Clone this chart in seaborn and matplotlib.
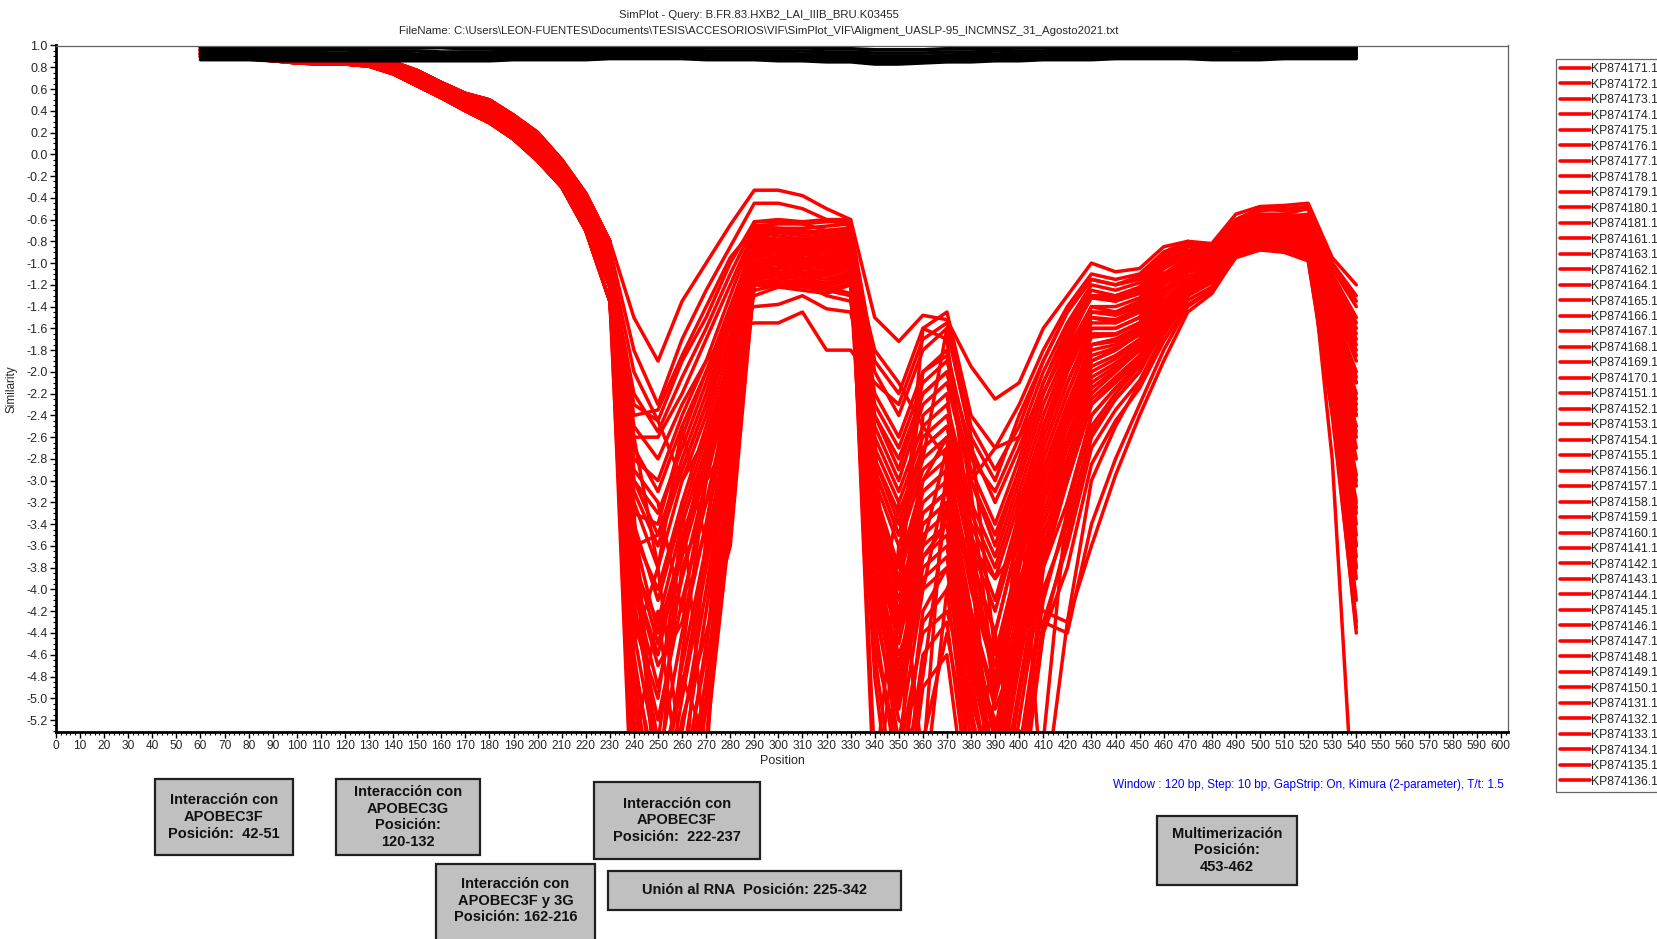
import matplotlib
matplotlib.use("Agg")
import matplotlib.pyplot as plt
from matplotlib.patches import Rectangle
from matplotlib.ticker import MultipleLocator, FormatStrFormatter
import pandas as pd
import seaborn as sns

# ---------------------------------------------------------------- data
positions = list(range(60, 550, 10))          # window midpoints, 60..540
head_positions = positions[:18]               # 60..230
tail_positions = positions[18:]               # 240..540

red_names = [
    "KP874171.1", "KP874172.1", "KP874173.1", "KP874174.1", "KP874175.1",
    "KP874176.1", "KP874177.1", "KP874178.1", "KP874179.1", "KP874180.1",
    "KP874181.1", "KP874161.1", "KP874163.1", "KP874162.1", "KP874164.1",
    "KP874165.1", "KP874166.1", "KP874167.1", "KP874168.1", "KP874169.1",
    "KP874170.1", "KP874151.1", "KP874152.1", "KP874153.1", "KP874154.1",
    "KP874155.1", "KP874156.1", "KP874157.1", "KP874158.1", "KP874159.1",
    "KP874160.1", "KP874141.1", "KP874142.1", "KP874143.1", "KP874144.1",
    "KP874145.1", "KP874146.1", "KP874147.1", "KP874148.1", "KP874149.1",
    "KP874150.1", "KP874131.1", "KP874132.1", "KP874133.1", "KP874134.1",
    "KP874135.1", "KP874136.1",
]

# similarity from 60 to 230 (the shared descending band)
red_heads = [
    [0.99, 0.99, 0.98, 0.97, 0.95, 0.93, 0.91, 0.89, 0.85, 0.77, 0.66, 0.56, 0.50, 0.36, 0.20, -0.05, -0.36, -0.80],
    [0.98, 0.97, 0.96, 0.95, 0.93, 0.91, 0.90, 0.88, 0.83, 0.75, 0.64, 0.54, 0.47, 0.33, 0.16, -0.09, -0.41, -0.87],
    [0.96, 0.95, 0.94, 0.92, 0.90, 0.89, 0.88, 0.86, 0.81, 0.72, 0.61, 0.51, 0.43, 0.29, 0.12, -0.13, -0.46, -0.95],
    [0.95, 0.94, 0.93, 0.91, 0.89, 0.88, 0.87, 0.85, 0.80, 0.70, 0.59, 0.49, 0.40, 0.25, 0.08, -0.17, -0.51, -1.03],
    [0.93, 0.92, 0.91, 0.89, 0.87, 0.86, 0.85, 0.84, 0.78, 0.68, 0.57, 0.46, 0.36, 0.21, 0.04, -0.21, -0.56, -1.12],
    [0.92, 0.91, 0.90, 0.88, 0.86, 0.85, 0.84, 0.83, 0.76, 0.66, 0.55, 0.43, 0.33, 0.18, -0.01, -0.25, -0.63, -1.22],
    [0.90, 0.89, 0.88, 0.86, 0.84, 0.83, 0.83, 0.81, 0.74, 0.63, 0.52, 0.40, 0.29, 0.14, -0.06, -0.30, -0.70, -1.35],
]
red_head_choice = [0, 1, 2, 3, 4, 5, 6, 1, 3, 5, 0, 2, 4, 6, 2, 5, 1, 4, 0, 3, 6, 3, 0, 6,
                   2, 5, 1, 4, 4, 1, 6, 3, 0, 5, 2, 5, 2, 0, 4, 6, 1, 3, 6, 3, 1, 5, 2]

# similarity from 240 to 540
red_tails = [
    [-1.50, -1.90, -1.35, -1.00, -0.65, -0.33, -0.33, -0.38, -0.50, -0.60, -1.50, -1.72, -1.48, -1.52, -1.95, -2.25, -2.10, -1.60, -1.30, -1.00, -1.08, -1.05, -0.85, -0.80, -0.82, -0.55, -0.48, -0.47, -0.45, -0.95, -1.20],
    [-1.80, -2.30, -1.70, -1.25, -0.85, -0.45, -0.45, -0.50, -0.60, -0.66, -1.90, -2.20, -1.60, -1.45, -2.40, -2.70, -2.30, -1.80, -1.40, -1.10, -1.15, -1.10, -0.90, -0.82, -0.85, -0.60, -0.50, -0.52, -0.48, -1.00, -1.35],
    [-2.00, -2.45, -1.90, -1.50, -1.00, -0.62, -0.62, -0.64, -0.70, -0.68, -2.20, -2.60, -2.00, -1.80, -2.80, -3.10, -2.60, -2.00, -1.55, -1.20, -1.25, -1.18, -0.95, -0.85, -0.88, -0.65, -0.55, -0.55, -0.50, -1.10, -1.50],
    [-2.20, -2.55, -2.05, -1.60, -1.10, -0.65, -0.68, -0.70, -0.72, -0.70, -2.50, -3.00, -2.30, -2.10, -3.00, -3.50, -2.90, -2.20, -1.70, -1.30, -1.35, -1.25, -1.00, -0.90, -0.90, -0.70, -0.60, -0.58, -0.55, -1.20, -1.70],
    [-2.40, -2.35, -1.85, -1.40, -0.95, -0.68, -0.70, -0.72, -0.75, -0.72, -2.00, -2.40, -1.80, -1.60, -2.60, -3.00, -2.40, -1.90, -1.45, -1.15, -1.20, -1.15, -0.92, -0.84, -0.86, -0.62, -0.52, -0.50, -0.50, -1.05, -1.40],
    [-2.60, -2.60, -2.20, -1.70, -1.20, -0.70, -0.72, -0.75, -0.78, -0.74, -2.70, -3.20, -2.60, -2.40, -3.30, -3.80, -3.10, -2.40, -1.85, -1.40, -1.45, -1.35, -1.05, -0.92, -0.92, -0.72, -0.62, -0.62, -0.60, -1.30, -1.85],
    [-2.80, -3.00, -2.40, -1.90, -1.30, -0.72, -0.75, -0.78, -0.80, -0.76, -2.40, -2.90, -2.20, -2.00, -2.90, -3.40, -2.80, -2.10, -1.60, -1.25, -1.30, -1.22, -0.98, -0.88, -0.90, -0.68, -0.58, -0.58, -0.56, -1.15, -1.60],
    [-3.00, -3.30, -2.70, -2.10, -1.45, -0.75, -0.78, -0.80, -0.82, -0.78, -2.90, -3.50, -2.80, -2.60, -3.60, -4.20, -3.40, -2.60, -2.00, -1.50, -1.55, -1.45, -1.12, -0.98, -0.95, -0.75, -0.65, -0.65, -0.62, -1.40, -2.00],
    [-3.10, -3.60, -2.90, -2.30, -1.55, -0.78, -0.80, -0.82, -0.85, -0.80, -2.30, -2.70, -2.10, -1.90, -2.70, -3.20, -2.70, -2.10, -1.65, -1.30, -1.32, -1.25, -1.00, -0.90, -0.92, -0.70, -0.60, -0.60, -0.58, -1.20, -1.65],
    [-3.20, -3.80, -3.00, -2.40, -1.65, -0.80, -0.82, -0.85, -0.88, -0.82, -3.10, -3.80, -3.00, -2.80, -3.90, -4.60, -3.70, -2.80, -2.20, -1.65, -1.65, -1.55, -1.20, -1.02, -0.98, -0.78, -0.68, -0.68, -0.66, -1.50, -2.20],
    [-3.30, -3.40, -2.60, -2.00, -1.40, -0.82, -0.85, -0.88, -0.90, -0.84, -2.60, -3.10, -2.50, -2.30, -3.20, -3.70, -3.00, -2.30, -1.80, -1.40, -1.40, -1.32, -1.05, -0.93, -0.93, -0.72, -0.62, -0.63, -0.62, -1.35, -1.90],
    [-3.50, -4.00, -3.20, -2.50, -1.75, -0.85, -0.88, -0.90, -0.92, -0.86, -3.30, -4.10, -3.20, -3.00, -4.20, -5.00, -4.00, -3.00, -2.40, -1.80, -1.75, -1.62, -1.28, -1.08, -1.02, -0.80, -0.70, -0.70, -0.70, -1.60, -2.40],
    [-3.60, -3.50, -2.80, -2.20, -1.50, -0.88, -0.90, -0.92, -0.95, -0.88, -2.80, -3.30, -2.70, -2.50, -3.40, -3.90, -3.20, -2.50, -1.90, -1.45, -1.48, -1.40, -1.10, -0.96, -0.95, -0.75, -0.65, -0.66, -0.65, -1.45, -2.10],
    [-3.80, -4.30, -3.40, -2.70, -1.85, -0.90, -0.92, -0.95, -0.98, -0.90, -3.50, -4.40, -3.40, -3.20, -4.50, -5.60, -4.30, -3.20, -2.60, -1.95, -1.85, -1.70, -1.35, -1.12, -1.05, -0.82, -0.72, -0.73, -0.74, -1.70, -2.70],
    [-3.90, -4.60, -3.60, -2.80, -1.95, -0.92, -0.95, -0.98, -1.00, -0.92, -3.00, -3.60, -2.90, -2.70, -3.70, -4.40, -3.50, -2.70, -2.10, -1.60, -1.60, -1.50, -1.18, -1.00, -0.98, -0.78, -0.68, -0.70, -0.72, -1.55, -2.30],
    [-4.00, -4.90, -3.90, -3.00, -2.10, -0.95, -0.98, -1.00, -1.02, -0.95, -3.70, -4.70, -3.60, -3.40, -4.80, -6.00, -4.60, -3.40, -2.80, -2.10, -1.95, -1.78, -1.42, -1.16, -1.08, -0.85, -0.75, -0.76, -0.78, -1.80, -2.95],
    [-4.20, -5.20, -4.10, -3.20, -2.20, -0.98, -1.00, -1.02, -1.05, -0.98, -3.20, -3.90, -3.10, -2.90, -4.00, -4.80, -3.80, -2.90, -2.30, -1.75, -1.70, -1.58, -1.25, -1.05, -1.00, -0.80, -0.70, -0.72, -0.76, -1.65, -2.55],
    [-4.40, -5.60, -4.40, -3.40, -2.30, -1.00, -1.02, -1.05, -1.08, -1.00, -3.90, -5.00, -3.80, -3.60, -5.10, -6.20, -4.90, -3.60, -3.00, -2.25, -2.05, -1.85, -1.48, -1.20, -1.10, -0.88, -0.78, -0.80, -0.82, -1.90, -3.20],
    [-4.60, -6.00, -4.70, -3.60, -2.40, -1.02, -1.05, -1.08, -1.10, -1.02, -3.40, -4.20, -3.30, -3.10, -4.30, -5.30, -4.10, -3.10, -2.50, -1.90, -1.80, -1.65, -1.30, -1.08, -1.02, -0.82, -0.72, -0.75, -0.80, -1.75, -2.80],
    [-4.80, -6.30, -5.00, -3.80, -2.50, -1.05, -1.08, -1.10, -1.12, -1.05, -4.10, -5.40, -4.00, -3.80, -5.40, -6.50, -5.20, -3.80, -3.20, -2.40, -2.15, -1.92, -1.55, -1.25, -1.15, -0.90, -0.80, -0.83, -0.86, -2.00, -3.50],
    [-5.00, -6.50, -5.30, -4.00, -2.60, -1.08, -1.10, -1.12, -1.15, -1.08, -3.60, -4.50, -3.50, -3.30, -4.60, -5.70, -4.40, -3.30, -2.65, -2.00, -1.88, -1.72, -1.36, -1.12, -1.05, -0.85, -0.75, -0.78, -0.84, -1.85, -3.00],
    [-5.30, -6.80, -5.60, -4.20, -2.70, -1.10, -1.12, -1.15, -1.18, -1.10, -4.30, -5.80, -4.30, -4.00, -5.70, -6.80, -5.50, -4.00, -3.40, -2.55, -2.25, -2.00, -1.60, -1.30, -1.18, -0.92, -0.82, -0.86, -0.90, -2.10, -3.80],
    [-5.60, -7.00, -5.90, -4.50, -2.85, -1.12, -1.15, -1.18, -1.20, -1.12, -3.80, -4.80, -3.70, -3.50, -4.90, -6.00, -4.70, -3.50, -2.85, -2.15, -1.98, -1.80, -1.42, -1.16, -1.08, -0.88, -0.78, -0.80, -0.88, -1.95, -3.30],
    [-5.90, -7.30, -6.20, -4.80, -3.00, -1.15, -1.18, -1.20, -1.22, -1.15, -4.60, -6.20, -4.60, -4.30, -6.00, -7.20, -5.80, -4.30, -3.60, -2.70, -2.35, -2.08, -1.66, -1.34, -1.22, -0.94, -0.85, -0.88, -0.94, -2.20, -4.10],
    [-6.20, -7.60, -6.50, -5.10, -3.20, -1.18, -1.20, -1.22, -1.25, -1.18, -4.00, -5.10, -3.90, -3.70, -5.20, -6.40, -5.00, -3.70, -3.00, -2.30, -2.08, -1.88, -1.50, -1.22, -1.12, -0.90, -0.80, -0.84, -0.92, -2.05, -3.60],
    [-6.50, -7.90, -6.80, -5.40, -3.40, -1.20, -1.22, -1.25, -1.28, -1.20, -4.80, -6.60, -4.90, -4.60, -6.30, -7.60, -6.10, -4.40, -3.80, -2.85, -2.45, -2.15, -1.72, -1.38, -1.25, -0.95, -0.88, -0.90, -0.98, -2.30, -4.40],
    [-2.50, -2.80, -2.30, -1.90, -1.60, -1.55, -1.55, -1.45, -1.80, -1.80, -2.10, -2.30, -1.70, -1.55, -2.50, -2.90, -2.50, -1.90, -1.45, -1.15, -1.20, -1.12, -0.90, -0.80, -0.85, -0.60, -0.50, -0.50, -0.48, -1.00, -1.30],
    [-2.70, -3.10, -2.50, -2.00, -1.55, -1.40, -1.38, -1.30, -1.42, -1.45, -2.40, -2.80, -2.20, -2.00, -3.00, -3.60, -2.90, -2.20, -1.70, -1.32, -1.35, -1.28, -1.02, -0.90, -0.90, -0.68, -0.58, -0.58, -0.58, -1.25, -1.75],
    [-3.00, -3.50, -2.90, -2.30, -1.70, -1.30, -1.22, -1.18, -1.30, -1.35, -2.80, -3.40, -2.70, -2.50, -3.50, -4.10, -3.30, -2.50, -1.95, -1.50, -1.52, -1.42, -1.12, -0.96, -0.95, -0.74, -0.64, -0.64, -0.64, -1.40, -2.05],
    [-3.40, -4.10, -3.30, -2.60, -1.85, -1.25, -1.20, -1.15, -1.25, -1.30, -3.20, -3.90, -3.10, -2.90, -3.90, -4.70, -3.70, -2.80, -2.20, -1.68, -1.66, -1.55, -1.20, -1.02, -0.98, -0.78, -0.68, -0.68, -0.68, -1.50, -2.25],
    [-3.70, -4.50, -3.70, -2.90, -2.00, -1.20, -1.15, -1.10, -1.22, -1.28, -3.40, -4.30, -3.40, -3.20, -4.40, -5.40, -4.20, -3.10, -2.45, -1.85, -1.78, -1.66, -1.30, -1.08, -1.03, -0.82, -0.72, -0.74, -0.76, -1.68, -2.60],
    [-6.00, -6.50, -5.80, -4.60, -2.20, -0.95, -0.90, -0.88, -0.85, -0.80, -6.00, -4.20, -3.00, -2.60, -6.00, -5.00, -3.60, -2.60, -2.00, -1.55, -1.55, -1.45, -1.15, -0.98, -0.95, -0.74, -0.64, -0.64, -0.64, -1.45, -2.10],
    [-4.50, -3.80, -5.60, -5.00, -2.60, -0.88, -0.85, -0.84, -0.82, -0.78, -3.00, -5.80, -2.40, -2.20, -3.80, -6.00, -4.60, -3.20, -2.50, -1.90, -1.80, -1.65, -1.30, -1.08, -1.02, -0.80, -0.70, -0.72, -0.74, -1.60, -2.40],
    [-3.60, -6.00, -3.20, -5.60, -2.40, -0.80, -0.80, -0.78, -0.76, -0.72, -5.80, -3.60, -5.60, -2.80, -4.40, -5.80, -3.10, -6.00, -4.30, -3.00, -2.50, -2.10, -1.65, -1.30, -1.15, -0.88, -0.80, -0.84, -0.90, -2.10, -3.70],
    [-5.50, -4.20, -6.00, -3.50, -1.90, -0.75, -0.72, -0.72, -0.70, -0.68, -2.60, -6.00, -4.80, -3.20, -6.20, -4.40, -5.90, -4.40, -3.50, -2.60, -2.25, -2.00, -1.58, -1.28, -1.15, -0.90, -0.82, -0.85, -0.92, -2.15, -3.90],
    [-4.80, -6.40, -4.60, -3.00, -2.00, -0.70, -0.68, -0.68, -0.66, -0.64, -4.40, -3.20, -6.00, -4.00, -3.40, -6.40, -4.00, -2.90, -2.30, -1.75, -1.70, -1.60, -1.26, -1.06, -1.00, -0.78, -0.68, -0.70, -0.72, -1.55, -2.35],
    [-2.60, -3.80, -2.50, -3.60, -3.50, -0.66, -0.64, -0.64, -0.62, -0.62, -3.80, -4.60, -4.00, -3.00, -4.20, -5.10, -4.50, -4.30, -4.40, -3.40, -2.80, -2.30, -1.80, -1.40, -1.25, -0.92, -0.84, -0.88, -0.95, -2.30, -4.30],
    [-2.90, -3.20, -4.20, -3.00, -2.60, -0.62, -0.60, -0.62, -0.60, -0.60, -3.60, -4.30, -3.60, -2.70, -3.60, -3.90, -3.60, -4.20, -4.30, -3.60, -2.95, -2.40, -1.90, -1.45, -1.28, -0.94, -0.86, -0.90, -0.96, -2.40, -4.35],
    [-3.30, -5.80, -4.80, -5.40, -3.00, -1.05, -1.00, -0.98, -0.96, -0.92, -5.60, -6.00, -4.20, -3.80, -4.60, -5.20, -6.00, -3.80, -3.00, -2.30, -2.10, -1.90, -1.50, -1.22, -1.12, -0.88, -0.78, -0.82, -0.86, -1.95, -3.40],
    [-4.10, -5.40, -3.80, -3.20, -2.80, -1.00, -0.95, -0.92, -0.90, -0.88, -3.30, -4.00, -2.00, -1.85, -3.10, -4.90, -3.90, -3.40, -2.70, -2.05, -1.92, -1.75, -1.40, -1.15, -1.06, -0.84, -0.74, -0.76, -0.80, -1.80, -3.05],
    [-5.20, -6.60, -5.20, -4.40, -3.60, -1.15, -1.10, -1.05, -1.02, -0.98, -4.50, -5.50, -4.40, -4.20, -5.00, -5.80, -5.30, -5.40, -3.20, -2.50, -2.20, -1.95, -1.55, -1.25, -1.14, -0.90, -0.80, -0.84, -0.88, -2.00, -3.60],
    [-3.90, -4.70, -4.30, -3.40, -2.20, -0.86, -0.82, -0.80, -0.80, -0.76, -2.90, -3.50, -2.80, -1.60, -2.60, -4.60, -3.80, -2.60, -2.00, -1.45, -1.45, -1.38, -1.10, -0.95, -0.93, -0.72, -0.62, -0.62, -0.60, -1.30, -1.80],
    [-4.30, -5.00, -3.50, -2.90, -2.10, -0.92, -0.88, -0.86, -0.85, -0.82, -3.10, -4.00, -1.60, -1.70, -3.50, -5.00, -4.20, -3.00, -2.35, -1.75, -1.72, -1.60, -1.25, -1.05, -1.00, -0.80, -0.70, -0.72, -0.75, -1.70, -2.50],
    [-2.30, -2.45, -3.00, -2.60, -2.00, -1.00, -0.98, -0.96, -0.95, -0.90, -1.80, -2.10, -2.50, -2.80, -3.00, -2.70, -2.60, -2.20, -1.75, -1.30, -1.30, -1.25, -1.00, -0.90, -0.88, -0.66, -0.56, -0.56, -0.56, -1.15, -1.55],
    [-5.80, -5.40, -6.20, -5.00, -3.30, -1.10, -1.05, -1.00, -0.98, -0.95, -4.20, -5.20, -5.40, -4.40, -5.60, -6.60, -5.60, -4.10, -3.30, -2.40, -2.15, -1.95, -1.52, -1.24, -1.14, -0.90, -0.82, -0.86, -0.92, -2.20, -3.80],
    [-3.50, -4.40, -3.60, -2.70, -1.90, -0.84, -0.80, -0.80, -0.78, -0.74, -3.40, -4.40, -3.30, -3.10, -3.80, -4.40, -3.50, -2.70, -2.10, -1.60, -1.60, -1.50, -1.18, -1.00, -0.97, -0.76, -0.66, -0.67, -0.68, -2.80, -6.50],
    [-4.70, -5.80, -4.90, -3.70, -2.45, -1.08, -1.05, -1.02, -1.00, -0.96, -3.90, -4.90, -3.70, -3.40, -4.70, -5.70, -4.50, -3.60, -2.90, -2.20, -2.00, -1.80, -1.45, -1.18, -1.09, -0.86, -0.76, -0.78, -0.82, -1.88, -3.25],
]

# the tight group of close relatives that stays near 0.9 over the whole gene
black_rows = [
    [0.99, 0.99, 0.99, 0.98, 0.98, 0.98, 0.98, 0.98, 0.98, 0.98, 0.98, 0.97, 0.97, 0.97, 0.97, 0.97, 0.98, 0.98, 0.98, 0.98, 0.98, 0.98, 0.98, 0.98, 0.98, 0.98, 0.97, 0.97, 0.96, 0.96, 0.96, 0.97, 0.97, 0.97, 0.98, 0.98, 0.98, 0.98, 0.98, 0.98, 0.98, 0.98, 0.98, 0.98, 0.98, 0.98, 0.98, 0.98, 0.98],
    [0.97, 0.97, 0.96, 0.96, 0.96, 0.96, 0.96, 0.95, 0.95, 0.95, 0.94, 0.94, 0.94, 0.95, 0.95, 0.96, 0.96, 0.96, 0.96, 0.96, 0.96, 0.95, 0.95, 0.95, 0.95, 0.95, 0.94, 0.94, 0.93, 0.93, 0.93, 0.94, 0.94, 0.95, 0.95, 0.95, 0.96, 0.96, 0.96, 0.96, 0.96, 0.96, 0.96, 0.96, 0.96, 0.96, 0.96, 0.96, 0.96],
    [0.95, 0.95, 0.94, 0.94, 0.94, 0.93, 0.93, 0.93, 0.93, 0.92, 0.92, 0.92, 0.92, 0.93, 0.93, 0.94, 0.94, 0.94, 0.94, 0.94, 0.94, 0.93, 0.93, 0.93, 0.93, 0.92, 0.92, 0.92, 0.90, 0.90, 0.90, 0.91, 0.92, 0.92, 0.93, 0.93, 0.94, 0.94, 0.94, 0.94, 0.94, 0.94, 0.94, 0.93, 0.94, 0.94, 0.94, 0.94, 0.94],
    [0.93, 0.93, 0.92, 0.92, 0.92, 0.91, 0.91, 0.91, 0.91, 0.91, 0.90, 0.90, 0.90, 0.91, 0.91, 0.92, 0.92, 0.92, 0.92, 0.92, 0.92, 0.92, 0.91, 0.91, 0.91, 0.90, 0.90, 0.90, 0.88, 0.88, 0.88, 0.89, 0.90, 0.90, 0.91, 0.91, 0.92, 0.92, 0.92, 0.92, 0.92, 0.92, 0.92, 0.91, 0.92, 0.92, 0.92, 0.92, 0.92],
    [0.91, 0.91, 0.90, 0.90, 0.90, 0.89, 0.89, 0.89, 0.89, 0.89, 0.88, 0.88, 0.88, 0.89, 0.89, 0.90, 0.90, 0.90, 0.90, 0.90, 0.91, 0.90, 0.90, 0.89, 0.89, 0.88, 0.88, 0.88, 0.86, 0.86, 0.86, 0.87, 0.88, 0.88, 0.89, 0.89, 0.90, 0.90, 0.90, 0.90, 0.91, 0.91, 0.90, 0.90, 0.90, 0.90, 0.91, 0.91, 0.91],
    [0.89, 0.89, 0.88, 0.88, 0.88, 0.88, 0.87, 0.87, 0.87, 0.87, 0.87, 0.87, 0.87, 0.88, 0.88, 0.89, 0.89, 0.89, 0.89, 0.89, 0.89, 0.89, 0.88, 0.88, 0.88, 0.87, 0.87, 0.86, 0.84, 0.84, 0.85, 0.86, 0.87, 0.87, 0.88, 0.88, 0.89, 0.89, 0.89, 0.89, 0.89, 0.89, 0.89, 0.88, 0.89, 0.89, 0.89, 0.89, 0.89],
    [0.87, 0.87, 0.87, 0.86, 0.86, 0.86, 0.86, 0.86, 0.86, 0.86, 0.86, 0.86, 0.86, 0.87, 0.87, 0.87, 0.87, 0.88, 0.88, 0.88, 0.88, 0.87, 0.87, 0.87, 0.86, 0.86, 0.85, 0.85, 0.83, 0.83, 0.84, 0.85, 0.85, 0.86, 0.86, 0.87, 0.87, 0.87, 0.88, 0.88, 0.88, 0.88, 0.87, 0.87, 0.87, 0.88, 0.88, 0.88, 0.88],
]

title_lines = [
    "SimPlot - Query: B.FR.83.HXB2_LAI_IIIB_BRU.K03455",
    "FileName: C:\\Users\\LEON-FUENTES\\Documents\\TESIS\\ACCESORIOS\\VIF\\SimPlot_VIF\\Aligment_UASLP-95_INCMNSZ_31_Agosto2021.txt",
]
settings_note = "Window : 120 bp, Step: 10 bp, GapStrip: On, Kimura (2-parameter), T/t: 1.5"

region_notes = [
    "Interacción con\nAPOBEC3F\nPosición:  42-51",
    "Interacción con\nAPOBEC3G\nPosición:\n120-132",
    "Interacción con\nAPOBEC3F\nPosición:  222-237",
    "Interacción con\nAPOBEC3F y 3G\nPosición: 162-216",
    "Unión al RNA  Posición: 225-342",
    "Multimerización\nPosición:\n453-462",
]

# ---------------------------------------------------------------- frames
red_records = []
for name, h, tail in zip(red_names, red_head_choice, red_tails):
    for pos, val in zip(positions, red_heads[h] + tail):
        red_records.append({"Sequence": name, "Position": pos, "Similarity": val})
red_df = pd.DataFrame(red_records)

black_records = []
for k, row in enumerate(black_rows):
    for pos, val in zip(positions, row):
        black_records.append({"Sequence": f"grp{k}", "Position": pos, "Similarity": val})
black_df = pd.DataFrame(black_records)

# ---------------------------------------------------------------- style
sns.set_style("white")
plt.rcParams["font.family"] = ["Liberation Sans", "DejaVu Sans"]

W, H = 1658, 939
fig = plt.figure(figsize=(W / 100, H / 100), dpi=100)
ax_l, ax_r, ax_t, ax_b = 56, 1508, 45.5, 732
ax = fig.add_axes([ax_l / W, 1 - ax_b / H, (ax_r - ax_l) / W, (ax_b - ax_t) / H])

sns.lineplot(data=red_df, x="Position", y="Similarity", hue="Sequence",
             hue_order=red_names, palette={n: "#ff0000" for n in red_names},
             estimator=None, sort=False, linewidth=2.5, legend=False, ax=ax)
red_lines = list(ax.lines[:len(red_names)])
sns.lineplot(data=black_df, x="Position", y="Similarity", units="Sequence",
             estimator=None, sort=False, color="black", linewidth=2.6,
             legend=False, ax=ax)

ax.set_xlim(0, 603)
ax.set_ylim(-5.31, 1.0)
ax.xaxis.set_major_locator(MultipleLocator(10))
ax.xaxis.set_minor_locator(MultipleLocator(2))
ax.yaxis.set_major_locator(MultipleLocator(0.2))
ax.yaxis.set_minor_locator(MultipleLocator(0.05))
ax.yaxis.set_major_formatter(FormatStrFormatter("%.1f"))
ax.tick_params(axis="both", which="major", direction="out", length=4, width=1,
               color="black", labelsize=8.6, pad=2)
ax.tick_params(axis="both", which="minor", direction="out", length=2, width=0.8,
               color="black")
ax.tick_params(axis="x", which="both", bottom=True)
ax.tick_params(axis="y", which="both", left=True)
for lab in ax.get_yticklabels():
    lab.set_fontsize(9)
ax.set_xlabel("Position", fontsize=9, labelpad=2)
ax.set_ylabel("Similarity", fontsize=8.5, labelpad=6)
ax.grid(False)
for side in ("left", "bottom"):
    ax.spines[side].set_linewidth(2.0)
    ax.spines[side].set_color("black")
for side in ("top", "right"):
    ax.spines[side].set_linewidth(0.9)
    ax.spines[side].set_color("#606060")

fig.text(759 / W, 1 - 15 / H, title_lines[0], ha="center", va="center", fontsize=8.2)
fig.text(759 / W, 1 - 31 / H, title_lines[1], ha="center", va="center", fontsize=8.2)
fig.text(1504 / W, 1 - 785 / H, settings_note, ha="right", va="center",
         fontsize=8.5, color="#0000ff")

leg = fig.legend(handles=red_lines, labels=red_names, loc="upper left",
                 bbox_to_anchor=(1556 / W, 1 - 59 / H), fontsize=8.8,
                 frameon=True, fancybox=False, edgecolor="#404040",
                 handlelength=2.4, handletextpad=0.1, labelspacing=0.285,
                 borderpad=0.35, borderaxespad=0)
leg.get_frame().set_linewidth(0.9)
for ln in leg.get_lines():
    ln.set_linewidth(2.6)

# boxes describing the functional regions of Vif (left, top, right, bottom in px)
box_px = [
    (155, 779, 293, 855),
    (336, 779, 480, 855),
    (594, 782, 760, 859),
    (436, 864, 595, 950),
    (608, 871, 901, 910),
    (1157, 816, 1297, 885),
]
for (l, t, r, b), txt in zip(box_px, region_notes):
    fig.patches.append(Rectangle((l / W, 1 - b / H), (r - l) / W, (b - t) / H,
                                 transform=fig.transFigure, facecolor="#c0c0c0",
                                 edgecolor="#202020", linewidth=1.6, zorder=1))
    bottom = min(b, H - 2)
    fig.text((l + r) / 2 / W, 1 - (t + bottom) / 2 / H, txt, ha="center",
             va="center", fontsize=10.5, fontweight="bold", linespacing=1.27,
             color="#111111", zorder=2)

fig.savefig("out.png", dpi=100)
